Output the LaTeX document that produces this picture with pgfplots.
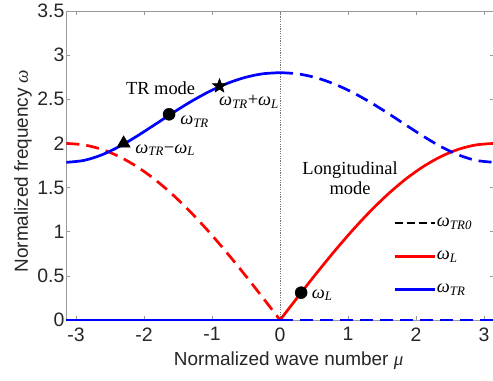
\documentclass[border=0pt]{standalone}
\usepackage{pgfplots}
\pgfplotsset{compat=1.18}
\usepackage{fontspec}
\setmainfont{Liberation Sans}
\newfontfamily\tnr{Liberation Serif}
\newcommand{\w}[1]{{\tnr\itshape ω\textsubscript{#1}}}
\pgfdeclareplotmark{fstar}{%
 \pgfpathmoveto{\pgfpointpolar{90}{\pgfplotmarksize}}%
 \pgfpathlineto{\pgfpointpolar{126}{0.42\pgfplotmarksize}}%
 \pgfpathlineto{\pgfpointpolar{162}{\pgfplotmarksize}}%
 \pgfpathlineto{\pgfpointpolar{198}{0.42\pgfplotmarksize}}%
 \pgfpathlineto{\pgfpointpolar{234}{\pgfplotmarksize}}%
 \pgfpathlineto{\pgfpointpolar{270}{0.42\pgfplotmarksize}}%
 \pgfpathlineto{\pgfpointpolar{306}{\pgfplotmarksize}}%
 \pgfpathlineto{\pgfpointpolar{342}{0.42\pgfplotmarksize}}%
 \pgfpathlineto{\pgfpointpolar{18}{\pgfplotmarksize}}%
 \pgfpathlineto{\pgfpointpolar{54}{0.42\pgfplotmarksize}}%
 \pgfpathclose\pgfusepathqfillstroke}
\begin{document}
\begin{tikzpicture}[font=\fontsize{19}{23}\selectfont]
\useasboundingbox (0,0) rectangle (493bp,381bp);
\begin{axis}[
 at={(66.4bp,61bp)}, anchor=south west,
 scale only axis, width=427.3bp, height=309bp,
 xmin=-3.14159, xmax=3.14159, ymin=0, ymax=3.5,
 xtick={-3,-2,-1,0,1,2,3}, ytick={0,0.5,1,1.5,2,2.5,3,3.5},
 tick align=inside, major tick length=4bp,
 tick style={black!40, line width=0.5bp},
 axis line style={black!40, line width=0.8bp},
 tick label style={font=\fontsize{19.5}{23}\selectfont, text=black!85},
 /pgf/number format/assume math mode=true,
 xticklabel style={yshift=-4bp},
 yticklabel style={xshift=1.5bp},
 clip=false,
 xlabel={Normalized wave number {\tnr\itshape μ}},
 ylabel={Normalized frequency {\tnr\itshape ω}},
 xlabel style={at={(axis description cs:0.52,-0.146)}, anchor=base, text=black!85},
 ylabel style={at={(axis description cs:-0.0899,0.482)}, anchor=base, text=black!85},
 legend style={draw=none, fill=none, at={(axis cs:1.66,1.17)}, anchor=north west,
   inner sep=0pt, row sep=21bp, font=\fontsize{18.5}{22}\selectfont,
   nodes={inner sep=1bp}},
 legend cell align=left,
 legend image code/.code={\draw[#1] (0bp,0bp) -- (40bp,0bp);},
 every axis plot/.append style={line width=2.7bp},
]
\addlegendimage{black, line width=2.8bp, dash pattern=on 8bp off 4bp}
\addlegendentry{\w{TR0}}
\addlegendimage{red, line width=2.8bp}
\addlegendentry{\w{L}}
\addlegendimage{blue, line width=2.8bp}
\addlegendentry{\w{TR}}

% vertical dotted line
\addplot[forget plot, black!55, line width=0.6bp, dash pattern=on 1.2bp off 1.2bp] coordinates {(0,0) (0,3.5)};

% omega_L dashed (negative mu)
\addplot[forget plot, red, dash pattern=on 13bp off 7bp, smooth] coordinates {
(-3.1416,2.0000) (-2.8798,1.9829) (-2.6180,1.9319) (-2.3562,1.8478) (-2.0944,1.7321)
(-1.8326,1.5867) (-1.5708,1.4142) (-1.3090,1.2175) (-1.0472,1.0000) (-0.7854,0.7654)
(-0.5236,0.5176) (-0.2618,0.2611) (0,0)};
% omega_L solid
\addplot[forget plot, red, smooth] coordinates {
(0,0) (0.2618,0.2611) (0.5236,0.5176) (0.7854,0.7654) (1.0472,1.0000) (1.3090,1.2175)
(1.5708,1.4142) (1.8326,1.5867) (2.0944,1.7321) (2.3562,1.8478) (2.6180,1.9319)
(2.8798,1.9829) (3.1416,2.0000)};

% omega_TR solid (negative mu)
\addplot[forget plot, blue, smooth] coordinates {
(-3.1416,1.7861) (-2.8798,1.8082) (-2.6180,1.8714) (-2.3562,1.9679) (-2.0944,2.0869)
(-1.8326,2.2174) (-1.5708,2.3495) (-1.3090,2.4745) (-1.0472,2.5855) (-0.7854,2.6772)
(-0.5236,2.7455) (-0.2618,2.7880) (0,2.8020)};
% omega_TR dashed
\addplot[forget plot, blue, dash pattern=on 13bp off 7bp, smooth] coordinates {
(0,2.8020) (0.2618,2.7880) (0.5236,2.7455) (0.7854,2.6772) (1.0472,2.5855) (1.3090,2.4745)
(1.5708,2.3495) (1.8326,2.2174) (2.0944,2.0869) (2.3562,1.9679) (2.6180,1.8714)
(2.8798,1.8082) (3.1416,1.7861)};

% zero-frequency branch
\addplot[forget plot, blue] coordinates {(-3.1416,0) (0,0)};
\addplot[forget plot, blue, dash pattern=on 13bp off 7bp] coordinates {(0,0) (3.1416,0)};

% markers
\addplot[forget plot, only marks, mark=triangle*, mark size=7.6bp, black, mark options={line width=0.5bp}] coordinates {(-2.30,2.00)};
\addplot[forget plot, only marks, mark=*, mark size=6bp, black, mark options={line width=0.5bp}] coordinates {(-1.632,2.33) (0.31,0.31)};
\addplot[forget plot, only marks, mark=fstar, mark size=7.5bp, black, mark options={line width=0.5bp}] coordinates {(-0.89,2.65)};

% annotations
\node[font=\tnr\fontsize{18.5}{22}\selectfont] at (axis cs:-1.757,2.627) {TR mode};
\node[anchor=west, inner sep=0pt, font=\fontsize{18.5}{22}\selectfont] at (axis cs:-1.47,2.246) {\w{TR}};
\node[anchor=west, inner sep=0pt, font=\fontsize{18.5}{22}\selectfont] at (axis cs:-2.13,1.925) {\w{TR}{\tnr−}\w{L}};
\node[anchor=west, inner sep=0pt, font=\fontsize{18.5}{22}\selectfont] at (axis cs:-0.897,2.472) {\w{TR}{\tnr+}\w{L}};
\node[anchor=west, inner sep=0pt, font=\fontsize{18.5}{22}\selectfont] at (axis cs:0.466,0.283) {\w{L}};
\node[font=\tnr\fontsize{18.5}{22}\selectfont, align=center] at (axis cs:1.03,1.608) {Longitudinal\\[-2bp]mode};
\end{axis}
\end{tikzpicture}
\end{document}
